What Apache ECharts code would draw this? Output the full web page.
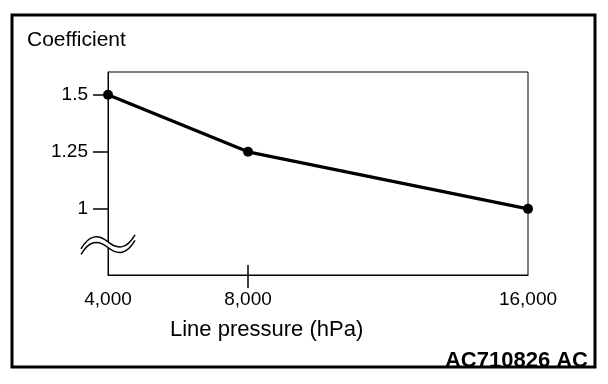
<!DOCTYPE html>
<html>
<head>
<meta charset="utf-8">
<script src="https://cdn.jsdelivr.net/npm/echarts@6/dist/echarts.min.js"></script>
<style>html,body{margin:0;padding:0;background:#fff}#c{width:608px;height:384px}</style>
</head>
<body>
<div id="c"></div>
<script>
var pressure = [4000, 8000, 16000];
var coefficient = [1.5, 1.25, 1.0];
var xTickLabels = [4000, 8000, 16000];
var xTickMarks = [8000];
var yTicks = [1, 1.25, 1.5];
var breakAt = [4000, 0.843];

var FONT = 'Liberation Sans, Arial, sans-serif';
var chart = echarts.init(document.getElementById('c'), null, {renderer: 'canvas'});

var pts = pressure.map(function (p, i) { return [p, coefficient[i]]; });

chart.setOption({
  animation: false,
  backgroundColor: '#fff',
  title: [
    {text: 'Coefficient', left: 27, top: 30, padding: 0,
     textStyle: {fontFamily: FONT, fontSize: 21, fontWeight: 'normal', color: '#000'}},
    {text: 'Line pressure (hPa)', left: 170, top: 319, padding: 0,
     textStyle: {fontFamily: FONT, fontSize: 22, fontWeight: 'normal', color: '#000'}},
    {text: 'AC710826 AC', right: 20, top: 350, padding: 0,
     textStyle: {fontFamily: FONT, fontSize: 22, fontWeight: 'bold', color: '#000'}}
  ],
  grid: {left: 108, right: 80, top: 72, bottom: 109, show: true, borderColor: '#000', borderWidth: 1},
  xAxis: [{
    type: 'value', min: 4000, max: 16000, position: 'bottom',
    axisLine: {show: true, lineStyle: {color: '#000', width: 1}},
    axisTick: {show: true, length: 13, customValues: xTickMarks, lineStyle: {color: '#000', width: 1.5}},
    axisLabel: {customValues: xTickLabels, margin: 15, color: '#000', fontFamily: FONT, fontSize: 19,
      formatter: function (v) { return v.toLocaleString('en-US'); }},
    splitLine: {show: false}
  }, {
    type: 'value', min: 4000, max: 16000, position: 'bottom', offset: 0,
    axisLine: {show: false},
    axisTick: {show: true, inside: true, length: 10, customValues: xTickMarks, lineStyle: {color: '#000', width: 1.5}},
    axisLabel: {show: false},
    splitLine: {show: false}
  }],
  yAxis: {
    type: 'value', min: 0.71, max: 1.6,
    axisLine: {show: true, lineStyle: {color: '#000', width: 1}},
    axisTick: {show: true, length: 15, customValues: yTicks, lineStyle: {color: '#000', width: 1.5}},
    axisLabel: {customValues: yTicks, margin: 20, color: '#000', fontFamily: FONT, fontSize: 19,
      formatter: function (v) { return String(v); }},
    splitLine: {show: false}
  },
  series: [{
    type: 'line', data: pts, xAxisIndex: 0,
    symbol: 'circle', symbolSize: 10,
    lineStyle: {color: '#000', width: 3.2},
    itemStyle: {color: '#000'},
    z: 5
  }],
  graphic: [{
    id: 'frame', type: 'rect', z: 10,
    shape: {x: 12, y: 15, width: 583, height: 352},
    style: {fill: 'none', stroke: '#000', lineWidth: 3}
  }]
});

var c = chart.convertToPixel({gridIndex: 0}, breakAt);
function wave(id, dy, color, lw) {
  return [
    {id: id + 'a', type: 'bezierCurve', z: 100, x: c[0], y: c[1] + dy,
     shape: {x1: -27, y1: 7, cpx1: -19, cpy1: -7, cpx2: -10, cpy2: -8, x2: 0, y2: 0},
     style: {stroke: color, fill: 'none', lineWidth: lw}},
    {id: id + 'b', type: 'bezierCurve', z: 100, x: c[0], y: c[1] + dy,
     shape: {x1: 0, y1: 0, cpx1: 10, cpy1: 8, cpx2: 19, cpy2: 7, x2: 27, y2: -7},
     style: {stroke: color, fill: 'none', lineWidth: lw}}
  ];
}
var g = [].concat(wave('w', 0, '#fff', 5), wave('t', -2.8, '#000', 1.5), wave('bt', 2.8, '#000', 1.5));
chart.setOption({graphic: g});
</script>
</body>
</html>
